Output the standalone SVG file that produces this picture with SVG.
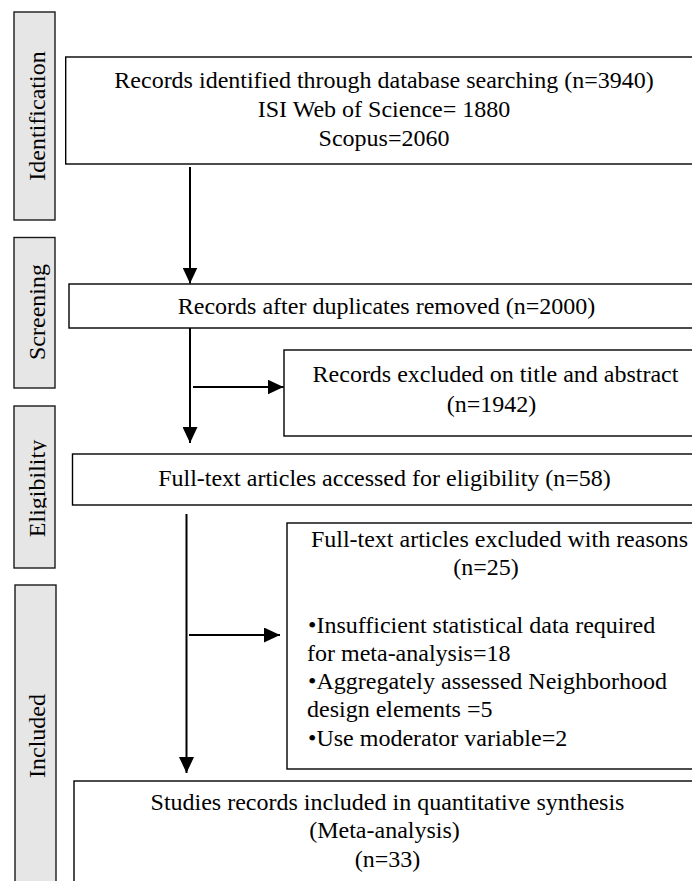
<svg xmlns="http://www.w3.org/2000/svg" width="692" height="881" viewBox="0 0 692 881">
<style>
  text { font-family: "Liberation Serif", "Times New Roman", serif; font-size: 24px; fill: #000; }
  .c { text-anchor: middle; }
  .box { fill: #fff; stroke: #000; stroke-width: 1.4; }
  .lab { fill: #e6e6e6; stroke: #1a1a1a; stroke-width: 1.4; }
  .conn { stroke: #000; stroke-width: 2; fill: none; }
</style>
<defs>
  <marker id="ah" markerUnits="userSpaceOnUse" markerWidth="16" markerHeight="15" refX="16" refY="7.5" orient="auto">
    <path d="M0,0 L16,7.5 L0,15 Z" fill="#000"/>
  </marker>
  <clipPath id="eclip" clipPathUnits="userSpaceOnUse">
    <rect x="14" y="406" width="32.5" height="162"/>
  </clipPath>
</defs>
<rect width="692" height="881" fill="#fff"/>

<g id="stage-identification">
  <rect class="lab" x="14" y="12" width="41" height="208"/>
  <text class="c" transform="translate(45,116) rotate(-90)">Identification</text>
</g>
<g id="stage-screening">
  <rect class="lab" x="14" y="237.5" width="41" height="150.5"/>
  <text class="c" transform="translate(45,312) rotate(-90)">Screening</text>
</g>
<g id="stage-eligibility">
  <rect class="lab" x="14" y="406" width="41" height="162"/>
  <g clip-path="url(#eclip)">
    <text class="c" transform="translate(45,488.5) rotate(-90)">Eligibility</text>
  </g>
</g>
<g id="stage-included">
  <rect class="lab" x="15" y="585" width="41" height="305"/>
  <text class="c" transform="translate(45,736) rotate(-90)">Included</text>
</g>

<g id="n-identified">
  <rect class="box" x="65.7" y="57" width="640" height="107"/>
  <text class="c" x="384" y="88">Records identified through database searching (n=3940)</text>
  <text class="c" x="384" y="117">ISI Web of Science= 1880</text>
  <text class="c" x="384" y="146">Scopus=2060</text>
</g>
<g id="n-duplicates">
  <rect class="box" x="69" y="284" width="640" height="44"/>
  <text class="c" x="386.5" y="314">Records after duplicates removed (n=2000)</text>
</g>
<g id="n-excluded-title">
  <rect class="box" x="284" y="350" width="420" height="86"/>
  <text class="c" x="495.5" y="382">Records excluded on title and abstract</text>
  <text class="c" x="491.5" y="412">(n=1942)</text>
</g>
<g id="n-fulltext">
  <rect class="box" x="72.5" y="454" width="640" height="51"/>
  <text class="c" x="384.5" y="486">Full-text articles accessed for eligibility (n=58)</text>
</g>
<g id="n-excluded-fulltext">
  <rect class="box" x="287" y="523" width="420" height="246"/>
  <text class="c" x="499.5" y="547">Full-text articles excluded with reasons</text>
  <text class="c" x="486" y="575">(n=25)</text>
  <text x="308" y="633">•Insufficient statistical data required</text>
  <text x="307" y="661">for meta-analysis=18</text>
  <text x="308" y="689">•Aggregately assessed Neighborhood</text>
  <text x="307" y="717">design elements =5</text>
  <text x="308" y="746">•Use moderator variable=2</text>
</g>
<g id="n-included">
  <rect class="box" x="74" y="781" width="640" height="120"/>
  <text class="c" x="387.5" y="810">Studies records included in quantitative synthesis</text>
  <text class="c" x="384.5" y="838">(Meta-analysis)</text>
  <text class="c" x="387.5" y="867">(n=33)</text>
</g>

<g id="connectors">
  <line class="conn" x1="190" y1="167" x2="190" y2="283.5" marker-end="url(#ah)"/>
  <line class="conn" x1="190" y1="328" x2="190" y2="443" marker-end="url(#ah)"/>
  <line class="conn" x1="193" y1="387" x2="283.5" y2="387" marker-end="url(#ah)"/>
  <line class="conn" x1="186.5" y1="514" x2="186.5" y2="773" marker-end="url(#ah)"/>
  <line class="conn" x1="189" y1="635" x2="280" y2="635" marker-end="url(#ah)"/>
</g>
</svg>
